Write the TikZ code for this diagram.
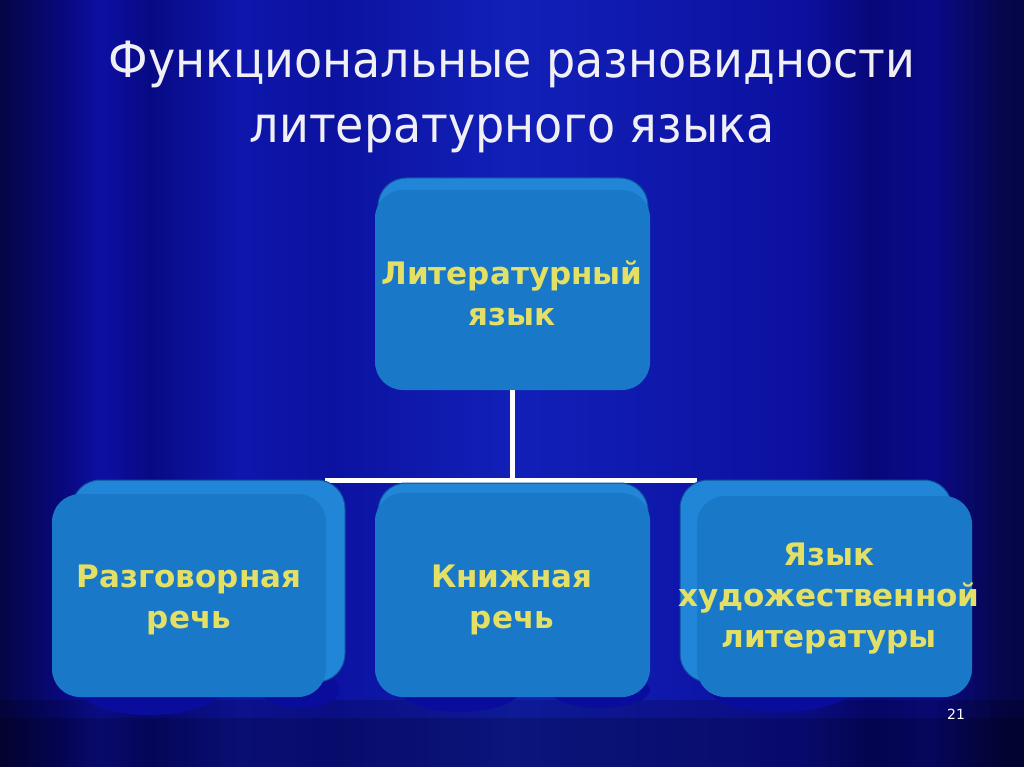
\documentclass[tikz,border=0pt]{standalone}
\usepackage{fontspec}
\setmainfont{DejaVu Sans}
\newfontfamily\boxfont{DejaVu Sans}
\newfontfamily\titlefont[FakeStretch=0.92]{DejaVu Sans}
\definecolor{cA}{HTML}{050546}
\definecolor{cB}{HTML}{08087A}
\definecolor{cC}{HTML}{0C10A2}
\definecolor{cD}{HTML}{080A84}
\definecolor{cE}{HTML}{0E16AC}
\definecolor{cF}{HTML}{0C12A0}
\definecolor{cG}{HTML}{1220B8}
\definecolor{cH}{HTML}{0E16A8}
\definecolor{cI}{HTML}{0C10A0}
\definecolor{cJ}{HTML}{08087A}
\definecolor{cK}{HTML}{0A0A8A}
\definecolor{cL}{HTML}{06064E}
\definecolor{hem}{HTML}{0A0C9C}
\definecolor{boxfront}{HTML}{1A78C8}
\definecolor{boxback}{HTML}{2286D8}
\definecolor{boxline}{HTML}{0E4E9E}
\definecolor{txtyellow}{HTML}{E4E066}
\definecolor{titlecol}{HTML}{F0F0F4}
\pgfdeclarehorizontalshading{curtain}{100bp}{color(0bp)=(cA); color(25bp)=(cA); color(27.9bp)=(cB); color(29.9bp)=(cC); color(32.3bp)=(cD); color(36.7bp)=(cE); color(41.1bp)=(cF); color(50bp)=(cG); color(59.2bp)=(cH); color(64.1bp)=(cI); color(67.5bp)=(cJ); color(70.4bp)=(cK); color(73.8bp)=(cL); color(75bp)=(cA); color(100bp)=(cA)}
\tikzset{
  backface/.style={fill=boxback, draw=boxline, line width=1pt, rounded corners=28pt},
  frontface/.style={fill=boxfront, rounded corners=28pt},
  boxtext/.style={text=txtyellow, font=\boxfont\bfseries\fontsize{31}{41}\selectfont, align=center},
  titletext/.style={font=\titlefont\fontsize{50}{65}\selectfont, align=center},
  link/.style={draw=white, line width=5pt},
  hemshape/.style={fill=hem}
}
\begin{document}
\begin{tikzpicture}[x=1pt,y=-1pt]
\useasboundingbox (0,0) rectangle (1024,767);
\shade[shading=curtain] (0,0) rectangle (1024,767);
\fill[black, opacity=0.18] (0,700) rectangle (1024,767);
\fill[black, opacity=0.18] (0,718) rectangle (1024,767);
% curtain hems below the boxes
\fill[hemshape] (150,690) ellipse [x radius=70, y radius=25];
\fill[hemshape] (300,690) ellipse [x radius=40, y radius=18];
\fill[hemshape] (460,690) ellipse [x radius=60, y radius=22];
\fill[hemshape] (600,690) ellipse [x radius=50, y radius=18];
\fill[hemshape] (780,690) ellipse [x radius=70, y radius=22];
% title
\node[titletext, text=titlecol] (title) at (512,97) {Функциональные разновидности\\литературного языка};
% connectors
\coordinate (hl) at (325,480);
\coordinate (hr) at (697,480);
\coordinate (hm) at (512,480);
% top box
\fill[backface] (378,178) rectangle (648,380);
\fill[frontface] (375,190) rectangle (650,390);
\node[boxtext] (lit) at (512,293) {Литературный\\язык};
\draw[link] (lit.south |- 0,390) -- (hm);
\draw[link] (hl) -- (hr);
% left box
\fill[backface] (72,480) rectangle (345,682);
\fill[frontface] (52,494) rectangle (326,697);
\node[boxtext] (razg) at (189,600) {Разговорная\\речь};
% middle box
\fill[backface] (378,483) rectangle (648,688);
\fill[frontface] (375,493) rectangle (650,697);
\node[boxtext] (kn) at (512,600) {Книжная\\речь};
% right box
\fill[backface] (680,480) rectangle (952,682);
\fill[frontface] (697,496) rectangle (972,697);
\node[boxtext] (hud) at (829,599) {Язык\\художественной\\литературы};
\node[text=white, font=\fontsize{14}{16}\selectfont] (pg) at (956,714) {21};
\end{tikzpicture}
\end{document}
